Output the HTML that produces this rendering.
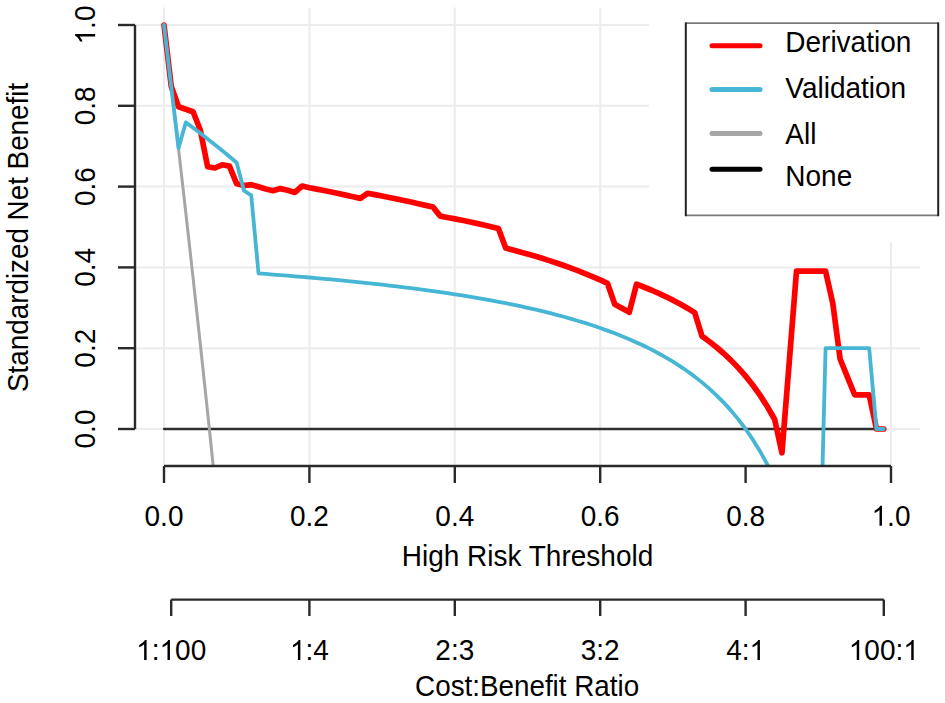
<!DOCTYPE html>
<html><head><meta charset="utf-8"><style>
html,body{margin:0;padding:0;background:#fff;width:945px;height:703px;overflow:hidden}
svg{display:block}
</style></head><body>
<svg width="945" height="703" viewBox="0 0 945 703"><defs><clipPath id="pr"><rect x="135" y="8" width="785" height="458"/></clipPath></defs><g stroke="#ececec" stroke-width="2"><line x1="164.00" y1="7.5" x2="164.00" y2="466"/><line x1="309.40" y1="7.5" x2="309.40" y2="466"/><line x1="454.80" y1="7.5" x2="454.80" y2="466"/><line x1="600.20" y1="7.5" x2="600.20" y2="466"/><line x1="891.00" y1="242" x2="891.00" y2="466"/><line x1="135" y1="429.00" x2="920.4" y2="429.00"/><line x1="135" y1="348.20" x2="920.4" y2="348.20"/><line x1="135" y1="267.40" x2="920.4" y2="267.40"/><line x1="135" y1="186.60" x2="649" y2="186.60"/><line x1="135" y1="105.80" x2="649" y2="105.80"/><line x1="135" y1="25.00" x2="649" y2="25.00"/></g><g clip-path="url(#pr)" fill="none" stroke-linejoin="round" stroke-linecap="round"><line x1="164.00" y1="429" x2="883.73" y2="429" stroke="#2e2e2e" stroke-width="2.3"/><path d="M164.00,25.00 L171.27,86.32 L178.54,148.88 L185.81,212.74 L193.08,277.93 L200.35,344.49 L207.62,412.47 L214.89,481.91 L222.16,552.86" stroke="#a6a6a6" stroke-width="3"/><path d="M164.00,25.00 L171.27,86.50 L178.54,106.80 L185.81,109.30 L193.08,111.80 L200.35,130.30 L207.62,166.80 L214.89,168.00 L222.16,164.80 L229.43,166.10 L236.70,183.80 L243.97,185.60 L251.24,184.70 L258.51,186.80 L265.78,189.00 L273.05,190.70 L280.32,188.60 L287.59,190.30 L294.86,192.40 L302.13,186.00 L309.40,187.70 L316.67,189.11 L323.94,190.56 L331.21,192.05 L338.48,193.57 L345.75,195.14 L353.02,196.75 L360.29,198.40 L367.56,193.30 L374.83,194.66 L382.10,196.06 L389.37,197.50 L396.64,198.98 L403.91,200.51 L411.18,202.08 L418.45,203.70 L425.72,205.38 L432.99,207.10 L440.26,216.10 L447.53,217.46 L454.80,218.87 L462.07,220.32 L469.34,221.83 L476.61,223.38 L483.88,225.00 L491.15,226.67 L498.42,228.40 L505.69,248.10 L512.96,249.99 L520.23,251.95 L527.50,253.98 L534.77,256.10 L542.04,258.31 L549.31,260.62 L556.58,263.02 L563.85,265.53 L571.12,268.16 L578.39,270.90 L585.66,273.78 L592.93,276.80 L600.20,279.97 L607.47,283.30 L614.74,304.20 L622.01,308.20 L629.28,312.30 L636.55,284.20 L643.82,287.02 L651.09,290.01 L658.36,293.19 L665.63,296.57 L672.90,300.17 L680.17,304.03 L687.44,308.16 L694.71,312.60 L701.98,336.10 L709.25,341.44 L716.52,347.22 L723.79,353.51 L731.06,360.36 L738.33,367.87 L745.60,376.13 L752.87,385.26 L760.14,395.41 L767.41,406.74 L774.68,419.50 L781.95,452.80 L789.22,362.40 L796.49,271.20 L803.76,271.20 L811.03,271.20 L818.30,271.20 L825.57,271.20 L832.84,303.60 L840.11,359.00 L847.38,376.80 L854.65,394.80 L861.92,394.80 L869.19,394.80 L876.46,429.00 L883.73,429.00" stroke="#ff0000" stroke-width="5.7"/><path d="M164.00,25.00 L171.27,87.00 L178.54,148.00 L185.81,122.40 L193.08,127.80 L200.35,133.31 L207.62,138.94 L214.89,144.69 L222.16,150.56 L229.43,156.56 L236.70,162.70 L243.97,190.70 L251.24,195.40 L258.51,273.44 L265.78,273.98 L273.05,274.53 L280.32,275.10 L287.59,275.67 L294.86,276.27 L302.13,276.88 L309.40,277.50 L316.67,278.14 L323.94,278.79 L331.21,279.47 L338.48,280.16 L345.75,280.87 L353.02,281.59 L360.29,282.34 L367.56,283.11 L374.83,283.90 L382.10,284.71 L389.37,285.55 L396.64,286.41 L403.91,287.30 L411.18,288.21 L418.45,289.15 L425.72,290.12 L432.99,291.13 L440.26,292.16 L447.53,293.23 L454.80,294.33 L462.07,295.47 L469.34,296.66 L476.61,297.88 L483.88,299.14 L491.15,300.45 L498.42,301.81 L505.69,303.23 L512.96,304.69 L520.23,306.22 L527.50,307.80 L534.77,309.45 L542.04,311.17 L549.31,312.96 L556.58,314.83 L563.85,316.78 L571.12,318.82 L578.39,320.95 L585.66,323.19 L592.93,325.54 L600.20,328.00 L607.47,330.59 L614.74,333.32 L622.01,336.19 L629.28,339.22 L636.55,342.43 L643.82,345.82 L651.09,349.42 L658.36,353.25 L665.63,357.32 L672.90,361.67 L680.17,366.31 L687.44,371.29 L694.71,376.63 L701.98,382.38 L709.25,388.60 L716.52,395.33 L723.79,402.65 L731.06,410.64 L738.33,419.38 L745.60,429.00 L752.87,439.63 L760.14,451.44 L767.41,464.65 L774.68,479.50 L781.95,496.33 L789.22,515.57 L796.49,537.77 L803.76,563.67 L811.03,594.27 L818.30,631.00 L825.57,348.20 L832.84,348.20 L840.11,348.20 L847.38,348.20 L854.65,348.20 L861.92,348.20 L869.19,348.20 L876.46,429.00 L883.73,429.00" stroke="#46b6d4" stroke-width="3.8"/></g><g stroke="#2a2a2a" stroke-width="2.4" stroke-linecap="butt"><line x1="135" y1="25.00" x2="135" y2="429.00"/><line x1="118" y1="429.00" x2="135" y2="429.00"/><line x1="118" y1="348.20" x2="135" y2="348.20"/><line x1="118" y1="267.40" x2="135" y2="267.40"/><line x1="118" y1="186.60" x2="135" y2="186.60"/><line x1="118" y1="105.80" x2="135" y2="105.80"/><line x1="118" y1="25.00" x2="135" y2="25.00"/><line x1="164.00" y1="466" x2="891.00" y2="466"/><line x1="164.00" y1="466" x2="164.00" y2="483"/><line x1="309.40" y1="466" x2="309.40" y2="483"/><line x1="454.80" y1="466" x2="454.80" y2="483"/><line x1="600.20" y1="466" x2="600.20" y2="483"/><line x1="745.60" y1="466" x2="745.60" y2="483"/><line x1="891.00" y1="466" x2="891.00" y2="483"/><line x1="171.20" y1="599.6" x2="883.80" y2="599.6"/><line x1="171.20" y1="599.6" x2="171.20" y2="616"/><line x1="309.40" y1="599.6" x2="309.40" y2="616"/><line x1="454.80" y1="599.6" x2="454.80" y2="616"/><line x1="600.20" y1="599.6" x2="600.20" y2="616"/><line x1="745.60" y1="599.6" x2="745.60" y2="616"/><line x1="883.80" y1="599.6" x2="883.80" y2="616"/></g><g font-family='"Liberation Sans", sans-serif' font-size="28" fill="#000"><g transform="translate(95.20,429.00) rotate(-90) scale(1,1.045)"><text x="-19.462" y="0">0.0</text></g><g transform="translate(95.20,348.20) rotate(-90) scale(1,1.045)"><text x="-19.462" y="0">0.2</text></g><g transform="translate(95.20,267.40) rotate(-90) scale(1,1.045)"><text x="-19.462" y="0">0.4</text></g><g transform="translate(95.20,186.60) rotate(-90) scale(1,1.045)"><text x="-19.462" y="0">0.6</text></g><g transform="translate(95.20,105.80) rotate(-90) scale(1,1.045)"><text x="-19.462" y="0">0.8</text></g><g transform="translate(95.20,25.00) rotate(-90) scale(1,1.045)"><path transform="translate(-19.462,0) scale(0.013672,-0.013083)" d="M763,0L583,0L583,1147Q518,1085 412,1023Q306,961 223,930L223,1104Q373,1175 485,1276Q597,1377 644,1466L763,1466Z"/><text x="-3.890" y="0">.0</text></g><text transform="translate(27.90,237.40) rotate(-90) scale(0.9935,1.045)" text-anchor="middle">Standardized Net Benefit</text><g transform="translate(164.00,525.80) scale(1,1.045)"><text x="-19.462" y="0">0.0</text></g><g transform="translate(309.40,525.80) scale(1,1.045)"><text x="-19.462" y="0">0.2</text></g><g transform="translate(454.80,525.80) scale(1,1.045)"><text x="-19.462" y="0">0.4</text></g><g transform="translate(600.20,525.80) scale(1,1.045)"><text x="-19.462" y="0">0.6</text></g><g transform="translate(745.60,525.80) scale(1,1.045)"><text x="-19.462" y="0">0.8</text></g><g transform="translate(891.00,525.80) scale(1,1.045)"><path transform="translate(-19.462,0) scale(0.013672,-0.013083)" d="M763,0L583,0L583,1147Q518,1085 412,1023Q306,961 223,930L223,1104Q373,1175 485,1276Q597,1377 644,1466L763,1466Z"/><text x="-3.890" y="0">.0</text></g><text transform="translate(527.50,565.60) scale(1.0,1.045)" text-anchor="middle">High Risk Threshold</text><g transform="translate(171.20,660.00) scale(1,1.045)"><path transform="translate(-35.034,0) scale(0.013672,-0.013083)" d="M763,0L583,0L583,1147Q518,1085 412,1023Q306,961 223,930L223,1104Q373,1175 485,1276Q597,1377 644,1466L763,1466Z"/><text x="-19.462" y="0">:</text><path transform="translate(-11.683,0) scale(0.013672,-0.013083)" d="M763,0L583,0L583,1147Q518,1085 412,1023Q306,961 223,930L223,1104Q373,1175 485,1276Q597,1377 644,1466L763,1466Z"/><text x="3.890" y="0">00</text></g><g transform="translate(309.40,660.00) scale(1,1.045)"><path transform="translate(-19.462,0) scale(0.013672,-0.013083)" d="M763,0L583,0L583,1147Q518,1085 412,1023Q306,961 223,930L223,1104Q373,1175 485,1276Q597,1377 644,1466L763,1466Z"/><text x="-3.890" y="0">:4</text></g><g transform="translate(454.80,660.00) scale(1,1.045)"><text x="-19.462" y="0">2:3</text></g><g transform="translate(600.20,660.00) scale(1,1.045)"><text x="-19.462" y="0">3:2</text></g><g transform="translate(745.60,660.00) scale(1,1.045)"><text x="-19.462" y="0">4:</text><path transform="translate(3.890,0) scale(0.013672,-0.013083)" d="M763,0L583,0L583,1147Q518,1085 412,1023Q306,961 223,930L223,1104Q373,1175 485,1276Q597,1377 644,1466L763,1466Z"/></g><g transform="translate(883.80,660.00) scale(1,1.045)"><path transform="translate(-35.034,0) scale(0.013672,-0.013083)" d="M763,0L583,0L583,1147Q518,1085 412,1023Q306,961 223,930L223,1104Q373,1175 485,1276Q597,1377 644,1466L763,1466Z"/><text x="-19.462" y="0">00:</text><path transform="translate(19.462,0) scale(0.013672,-0.013083)" d="M763,0L583,0L583,1147Q518,1085 412,1023Q306,961 223,930L223,1104Q373,1175 485,1276Q597,1377 644,1466L763,1466Z"/></g><text transform="translate(527.10,696.00) scale(0.993,1.045)" text-anchor="middle">Cost:Benefit Ratio</text><text transform="translate(785.30,52.00) scale(1.0,1.045)">Derivation</text><text transform="translate(785.30,98.00) scale(1.0,1.045)">Validation</text><text transform="translate(785.30,143.50) scale(1.0,1.045)">All</text><text transform="translate(785.30,185.50) scale(1.0,1.045)">None</text></g><g fill="none"><line x1="685.8" y1="23.2" x2="938.2" y2="23.2" stroke="#7a7a7a" stroke-width="1.8"/><line x1="685.8" y1="215.4" x2="938.2" y2="215.4" stroke="#7a7a7a" stroke-width="1.8"/><line x1="685.8" y1="22.4" x2="685.8" y2="216.2" stroke="#222" stroke-width="2"/><line x1="938.2" y1="22.4" x2="938.2" y2="216.2" stroke="#222" stroke-width="2"/></g><line x1="712" y1="45.8" x2="760" y2="45.8" stroke="#ff0000" stroke-width="5" stroke-linecap="round"/><line x1="712" y1="89.5" x2="760" y2="89.5" stroke="#46b6d4" stroke-width="5" stroke-linecap="round"/><line x1="712" y1="133.4" x2="760" y2="133.4" stroke="#a6a6a6" stroke-width="5" stroke-linecap="round"/><line x1="712" y1="169.2" x2="760" y2="169.2" stroke="#000" stroke-width="5" stroke-linecap="round"/></svg>
</body></html>
